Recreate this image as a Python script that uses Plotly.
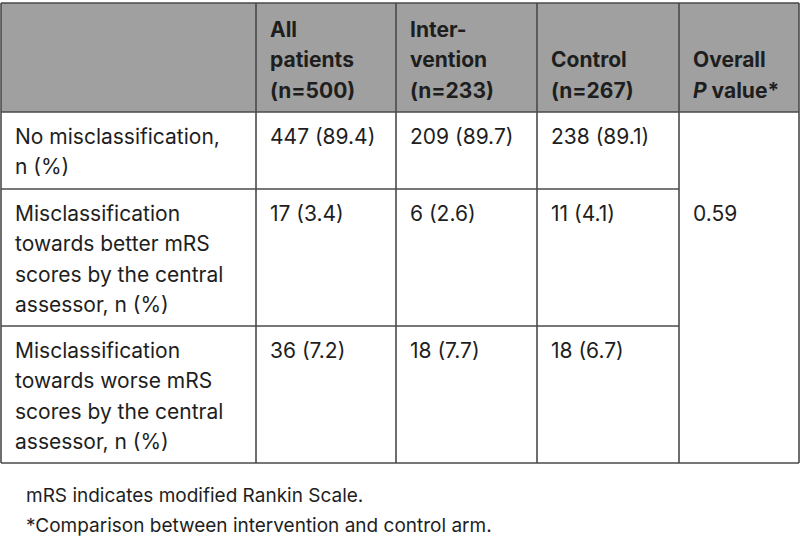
import plotly.graph_objects as go

# ---- table content ----
header_labels = ["", "All|patients|(n=500)", "Inter-|vention|(n=233)", "Control|(n=267)", "Overall|<i>P</i> value*"]
row_labels = [
    "No misclassification,|n (%)",
    "Misclassification|towards better mRS|scores by the central|assessor, n (%)",
    "Misclassification|towards worse mRS|scores by the central|assessor, n (%)",
]
all_patients = ["447 (89.4)", "17 (3.4)", "36 (7.2)"]
intervention = ["209 (89.7)", "6 (2.6)", "18 (7.7)"]
control = ["238 (89.1)", "11 (4.1)", "18 (6.7)"]
overall_p = "0.59"
footnotes = ["mRS indicates modified Rankin Scale.", "*Comparison between intervention and control arm."]

# ---- layout geometry (pixels) ----
W, H = 800, 539
col_edges = [1, 256, 396, 537, 679, 799]
row_edges = [3, 112, 189, 326, 463]
pad_x = 12
line_h = 30.5
first_line_offset = 24
FONT = "Inter, Liberation Sans, Arial, sans-serif"
FS = 21
TXT = "#1e1e1e"
LINE = "#4a4a4a"
HEADER_BG = "#a0a0a0"

fig = go.Figure()
shapes = []
annotations = []

# header background
shapes.append(dict(type="rect", x0=col_edges[0], x1=col_edges[-1], y0=row_edges[0], y1=row_edges[1],
                   fillcolor=HEADER_BG, line=dict(width=0), layer="below"))

lw = 1.6
# horizontal lines
for i, y in enumerate(row_edges):
    x1 = col_edges[-1] if i in (0, 1, len(row_edges) - 1) else col_edges[4]
    shapes.append(dict(type="line", x0=col_edges[0], x1=x1, y0=y, y1=y, line=dict(color=LINE, width=lw)))
# vertical lines
for x in col_edges:
    shapes.append(dict(type="line", x0=x, x1=x, y0=row_edges[0], y1=row_edges[-1], line=dict(color=LINE, width=lw)))


def add_text(x, y, text, bold=False, size=FS):
    annotations.append(dict(x=x, y=y, xref="x", yref="y", text=("<b>%s</b>" % text) if bold else text,
                            showarrow=False, xanchor="left", yanchor="middle",
                            font=dict(family=FONT, size=size, color=TXT)))


# header (bottom aligned)
header_bottom_center = 90
for c, lab in enumerate(header_labels):
    if not lab:
        continue
    lines = lab.split("|")
    n = len(lines)
    for k, ln in enumerate(lines):
        y = header_bottom_center - (n - 1 - k) * line_h
        add_text(col_edges[c] + pad_x, y, ln, bold=True)

# body
columns = [row_labels, all_patients, intervention, control]
for r in range(len(row_labels)):
    top = row_edges[r + 1]
    for c, col in enumerate(columns):
        for k, ln in enumerate(col[r].split("|")):
            add_text(col_edges[c] + pad_x, top + first_line_offset + k * line_h, ln)

# merged P value cell
add_text(col_edges[4] + pad_x, row_edges[2] + first_line_offset, overall_p)

# footnotes
for k, fn in enumerate(footnotes):
    add_text(24, 495 + k * 30, fn, size=19)

fig.update_layout(
    width=W, height=H, autosize=False,
    margin=dict(l=0, r=0, t=0, b=0),
    paper_bgcolor="white", plot_bgcolor="white",
    xaxis=dict(range=[0, W], visible=False, fixedrange=True),
    yaxis=dict(range=[H, 0], visible=False, fixedrange=True),
    shapes=shapes, annotations=annotations, showlegend=False,
)
fig.write_html("out.html", config={"displayModeBar": False},
               post_script="document.body.style.margin='0';document.body.style.overflow='hidden';")
